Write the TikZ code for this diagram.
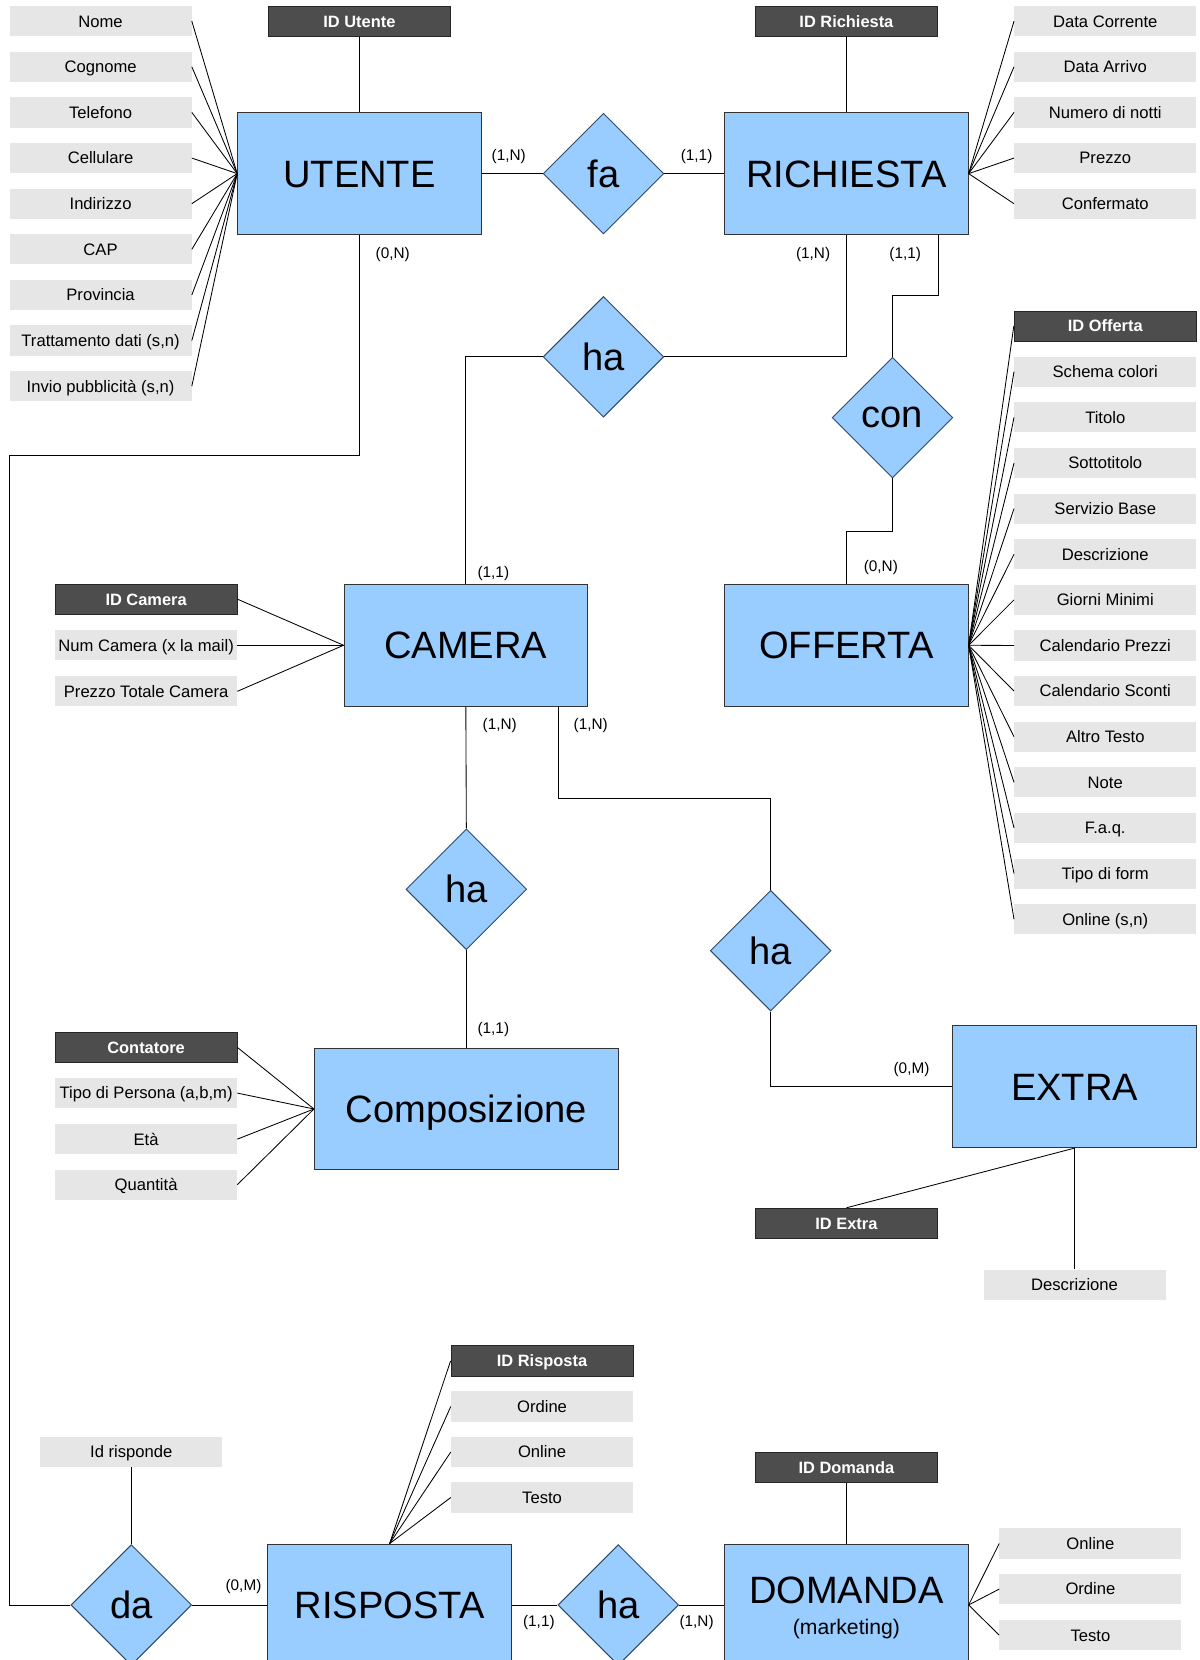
\documentclass[tikz,border=0pt]{standalone}
\usepackage{fontspec}
\setmainfont{Liberation Sans}
\usetikzlibrary{shapes.geometric}
\definecolor{entfill}{HTML}{99CCFF}
\definecolor{entborder}{HTML}{333333}
\definecolor{relborder}{HTML}{2E4A66}
\definecolor{attrfill}{HTML}{E6E6E6}
\definecolor{keyfill}{HTML}{4D4D4D}
\definecolor{keyborder}{HTML}{262626}
\begin{document}
\begin{tikzpicture}[x=1pt,y=-1pt,
  ent/.style={draw=entborder, fill=entfill, line width=0.9pt, minimum width=230pt, minimum height=115pt, inner sep=0pt, text height=25.8pt, text depth=0pt, font=\fontsize{36}{42}\selectfont},
  rel/.style={diamond, draw=relborder, fill=entfill, line width=0.9pt, minimum width=114pt, minimum height=114pt, inner sep=0pt, font=\fontsize{36}{42}\selectfont},
  attr/.style={fill=attrfill, minimum width=172pt, minimum height=28.5pt, inner sep=0pt, text height=11.1pt, text depth=0pt, font=\fontsize{15.7}{18}\selectfont},
  keyattr/.style={attr, fill=keyfill, draw=keyborder, line width=0.8pt, text=white, font=\fontsize{15.5}{18}\selectfont\bfseries},
  card/.style={inner sep=0pt, font=\fontsize{14.5}{17}\selectfont},
  conn/.style={draw=black, line width=0.8pt}
]
\useasboundingbox (0,0) rectangle (1133,1568);
\fill[white] (0,0) rectangle (1133,1568);
\clip (0,0) rectangle (1133,1568);

% ---------- UTENTE ----------
\node[ent] (utente) at (339.5,164) {UTENTE};
\node[keyattr] (idutente) at (339.5,20) {ID Utente};
\draw[conn] (idutente.south) -- (utente.north);
\foreach \t [count=\i from 0] in {Nome,Cognome,Telefono,Cellulare,Indirizzo,CAP,Provincia,{Trattamento dati (s,n)},{Invio pubblicità (s,n)}} {
  \node[attr] (ua\i) at (95,20+43.1*\i) {\t};
  \draw[conn] (ua\i.east) -- (utente.west);
}

% ---------- RICHIESTA ----------
\node[rel] (fa) at (570,164) {fa};
\node[ent] (richiesta) at (799.5,164) {RICHIESTA};
\node[keyattr] (idrichiesta) at (799.5,20) {ID Richiesta};
\draw[conn] (idrichiesta.south) -- (richiesta.north);
\draw[conn] (utente.east) -- (fa.west);
\draw[conn] (fa.east) -- (richiesta.west);
\foreach \t [count=\i from 0] in {Data Corrente,Data Arrivo,Numero di notti,Prezzo,Confermato} {
  \node[attr] (ra\i) at (1044,20+43.1*\i) {\t};
  \draw[conn] (ra\i.west) -- (richiesta.east);
}
\node[card] (c1) at (480.5,147.5) {(1,N)};
\node[card] (c2) at (658,147.5) {(1,1)};

% ---------- ha (richiesta-camera) ----------
\node[rel] (hab) at (570,337) {ha};
\node[ent] (camera) at (440,609.5) {CAMERA};
\draw[conn] (richiesta.south) |- (hab.east);
\draw[conn] (hab.west) -| (camera.north);
\node[card] (c3) at (371,240) {(0,N)};
\node[card] (c4) at (768,240) {(1,N)};
\node[card] (c5) at (855,240) {(1,1)};
\node[card] (c6) at (466,541.5) {(1,1)};

% ---------- con / OFFERTA ----------
\node[rel] (con) at (843,394.5) {con};
\node[ent] (offerta) at (799.5,609.5) {OFFERTA};
\coordinate (rb) at (886,221.5);
\coordinate (rk) at (843,279);
\coordinate (ok) at (843,502);
\draw[conn] (rb) |- (rk) -- (con.north);
\draw[conn] (con.south) -- (ok) -| (offerta.north);
\node[card] (c7) at (832,536) {(0,N)};
\node[keyattr] (oa0) at (1044,308) {ID Offerta};
\draw[conn] (oa0.west) -- (offerta.east);
\foreach \t [count=\i from 1] in {Schema colori,Titolo,Sottotitolo,Servizio Base,Descrizione,Giorni Minimi,Calendario Prezzi,Calendario Sconti,Altro Testo,Note,F.a.q.,Tipo di form,{Online (s,n)}} {
  \node[attr] (oa\i) at (1044,308+43.1*\i) {\t};
  \draw[conn] (oa\i.west) -- (offerta.east);
}

% ---------- CAMERA attributes ----------
\node[keyattr] (ca0) at (138,566) {ID Camera};
\node[attr] (ca1) at (138,609.5) {Num Camera (x la mail)};
\node[attr] (ca2) at (138,653) {Prezzo Totale Camera};
\foreach \i in {0,1,2} { \draw[conn] (ca\i.east) -- (camera.west); }

% ---------- Composizione ----------
\node[rel] (hac) at (440.5,840) {ha};
\node[ent, minimum width=287pt] (comp) at (440.5,1047.5) {Composizione};
\draw[conn] (camera.south) -- (hac.north);
\draw[conn] (hac.south) -- (comp.north);
\node[card] (c8) at (472,685) {(1,N)};
\node[card] (c9) at (466,972) {(1,1)};
\node[keyattr] (pa0) at (138,989.5) {Contatore};
\node[attr] (pa1) at (138,1032.5) {Tipo di Persona (a,b,m)};
\node[attr] (pa2) at (138,1076) {Età};
\node[attr] (pa3) at (138,1119) {Quantità};
\foreach \i in {0,1,2,3} { \draw[conn] (pa\i.east) -- (comp.west); }

% ---------- EXTRA ----------
\node[rel] (hae) at (728,898) {ha};
\node[ent] (extra) at (1015,1026.5) {EXTRA};
\coordinate (cb) at (527,667);
\coordinate (ck) at (527,754);
\draw[conn] (cb) -- (ck) -| (hae.north);
\draw[conn] (hae.south) |- (extra.west);
\node[card] (c10) at (558,685) {(1,N)};
\node[card] (c11) at (861,1010) {(0,M)};
\node[keyattr] (idextra) at (799.5,1155.5) {ID Extra};
\node[attr] (descextra) at (1015,1213.5) {Descrizione};
\draw[conn] (idextra.north) -- (extra.south);
\draw[conn] (descextra.north) -- (extra.south);

% ---------- RISPOSTA / DOMANDA ----------
\node[rel] (da) at (124,1516) {da};
\node[ent] (risposta) at (368,1516) {RISPOSTA};
\node[rel] (had) at (584,1516) {ha};
\node[ent] (domanda) at (799.5,1516) {};
\node[anchor=base, inner sep=0pt, font=\fontsize{36}{42}\selectfont] (domandaT) at (799.5,1515) {DOMANDA};
\node[anchor=base, inner sep=0pt, font=\fontsize{20}{24}\selectfont] (domandaS) at (799.5,1544) {(marketing)};
\node[attr] (idrisponde) at (124,1371.5) {Id risponde};
\draw[conn] (idrisponde.south) -- (da.north);
\draw[conn] (da.east) -- (risposta.west);
\draw[conn] (risposta.east) -- (had.west);
\draw[conn] (had.east) -- (domanda.west);
\node[card] (c12) at (230,1499) {(0,M)};
\node[card] (c13) at (509,1533) {(1,1)};
\node[card] (c14) at (658,1533) {(1,N)};
\node[keyattr] (sa0) at (512,1285.5) {ID Risposta};
\node[attr] (sa1) at (512,1328.5) {Ordine};
\node[attr] (sa2) at (512,1371.5) {Online};
\node[attr] (sa3) at (512,1414.5) {Testo};
\foreach \i in {0,1,2,3} { \draw[conn] (sa\i.west) -- (risposta.north); }
\node[keyattr] (iddomanda) at (799.5,1386) {ID Domanda};
\draw[conn] (iddomanda.south) -- (domanda.north);
\node[attr] (da0) at (1030,1458) {Online};
\node[attr] (da1) at (1030,1501) {Ordine};
\node[attr] (da2) at (1030,1544.5) {Testo};
\foreach \i in {0,1,2} { \draw[conn] (da\i.west) -- (domanda.east); }

% ---------- UTENTE to da ----------
\coordinate (uk) at (9,430);
\draw[conn] (utente.south) |- (uk) |- (da.west);
\end{tikzpicture}
\end{document}
